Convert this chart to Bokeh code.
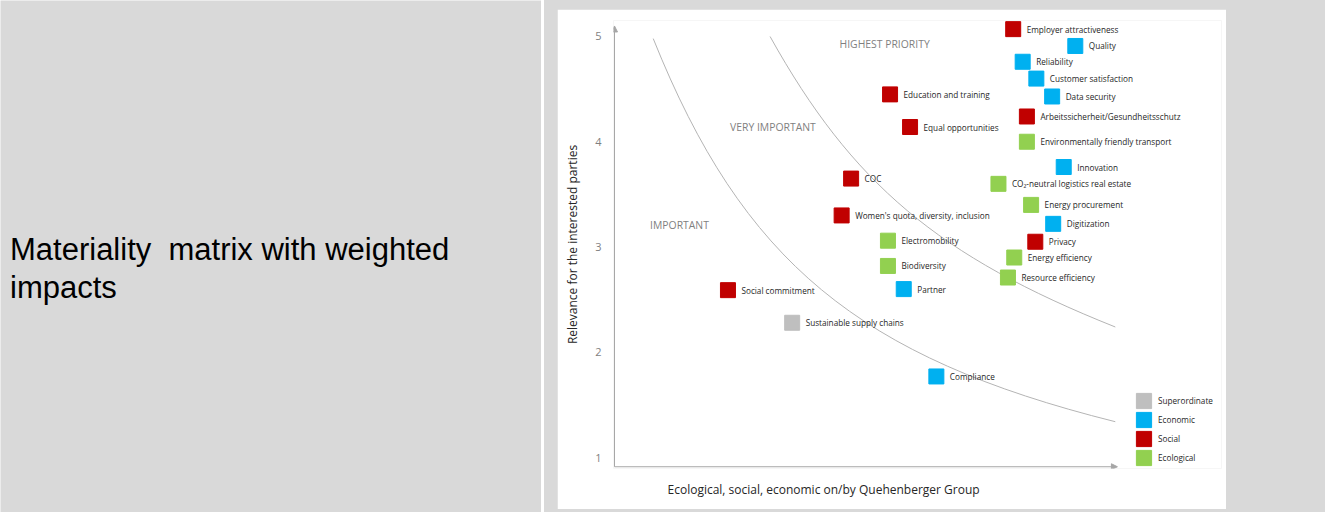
from bokeh.plotting import figure
from bokeh.models import (Label, Arrow, NormalHead, Legend, LegendItem, Title,
                          ColumnDataSource, FixedTicker, Range1d)
from bokeh.layouts import row, column
from bokeh.core.properties import value
from bokeh.embed import file_html
from bokeh.resources import INLINE

# ---------------- data ----------------
topics = ["Employer attractiveness", "Quality", "Reliability", "Customer satisfaction",
          "Data security", "Education and training", "Arbeitssicherheit/Gesundheitsschutz",
          "Equal opportunities", "Environmentally friendly transport", "Innovation", "COC",
          "CO\u2082-neutral logistics real estate", "Energy procurement",
          "Women's quota, diversity, inclusion", "Digitization", "Electromobility", "Privacy",
          "Energy efficiency", "Resource efficiency", "Biodiversity", "Partner",
          "Social commitment", "Sustainable supply chains", "Compliance"]
impact = [4.70, 5.29, 4.79, 4.92, 5.07, 3.53, 4.83, 3.72, 4.83, 5.18, 3.16, 4.56, 4.87,
          3.07, 5.08, 3.51, 4.91, 4.71, 4.65, 3.51, 3.66, 1.99, 2.60, 3.97]
relevance = [5.07, 4.91, 4.76, 4.60, 4.43, 4.45, 4.24, 4.14, 4.00, 3.76, 3.65, 3.60, 3.40,
             3.30, 3.22, 3.06, 3.05, 2.90, 2.71, 2.82, 2.60, 2.59, 2.28, 1.77]
category = ["Social", "Economic", "Economic", "Economic", "Economic", "Social", "Social",
            "Social", "Ecological", "Economic", "Social", "Ecological", "Ecological", "Social",
            "Economic", "Ecological", "Social", "Ecological", "Ecological", "Ecological",
            "Economic", "Social", "Superordinate", "Economic"]

legend_order = ["Superordinate", "Economic", "Social", "Ecological"]
legend_colors = ["#BFBFBF", "#00B0F0", "#C00000", "#92D050"]

zone_names = ["HIGHEST PRIORITY", "VERY IMPORTANT", "IMPORTANT"]
zone_x = [3.05, 2.01, 1.25]
zone_y = [4.93, 4.14, 3.21]

# priority boundary curves (cubic Bezier: start, control 1, control 2, end)
bound_x0 = [1.28, 2.39]
bound_y0 = [4.98, 5.00]
bound_cx0 = [2.13, 3.17]
bound_cy0 = [2.86, 3.60]
bound_cx1 = [3.23, 3.99]
bound_cy1 = [1.95, 2.91]
bound_x1 = [5.67, 5.67]
bound_y1 = [1.34, 2.24]

y_ticks = [1, 2, 3, 4, 5]

x_title = "Ecological, social, economic on/by Quehenberger Group"
y_title = "Relevance for the interested parties"
title_lines = ["Materiality\u00a0 matrix with weighted", "impacts"]

# ---------------- styles ----------------
GRAY_BG = "#d9d9d9"
AXIS_GRAY = "#a6a6a6"
FONT = "Open Sans"

# ---------------- left panel ----------------
left = figure(width=541, height=512, x_range=Range1d(0, 541), y_range=Range1d(0, 512),
              toolbar_location=None, output_backend="svg", x_axis_type=None,
              y_axis_type=None, min_border=0, background_fill_color=GRAY_BG,
              border_fill_color=GRAY_BG, outline_line_color=None)
left.grid.visible = False
for i, t in enumerate(title_lines):
    left.add_layout(Label(x=9.5, y=263.5 - 38 * i, x_units="screen", y_units="screen",
                          text=t, text_font="Liberation Sans", text_font_size="31px",
                          text_color="#000000", text_baseline="alphabetic"))

# ---------------- chart ----------------
x_axis_at = 0.912
y_axis_at = 0.912
x_arrow_end = 5.69
y_arrow_end = 5.10

p = figure(width=669, height=500, toolbar_location=None, output_backend="svg",
           x_range=Range1d(0.9025, 6.679), y_range=Range1d(0.8955, 5.152),
           x_axis_type=None,
           min_border_left=56, min_border_right=5, min_border_top=11, min_border_bottom=41,
           background_fill_color="white", border_fill_color="white",
           outline_line_color=None, margin=(9, 0, 0, 13))
p.grid.visible = False

p.yaxis.ticker = FixedTicker(ticks=y_ticks)
p.yaxis.axis_line_color = None
p.yaxis.major_tick_out = 0
p.yaxis.major_tick_in = 0
p.yaxis.minor_tick_out = 0
p.yaxis.minor_tick_in = 0
p.yaxis.major_label_standoff = 12
p.yaxis.major_label_text_font = FONT
p.yaxis.major_label_text_font_size = "11px"
p.yaxis.major_label_text_color = "#7f7f7f"
p.yaxis.axis_label = y_title
p.yaxis.axis_label_standoff = 11
p.yaxis.axis_label_text_font = FONT
p.yaxis.axis_label_text_font_size = "12px"
p.yaxis.axis_label_text_font_style = "normal"
p.yaxis.axis_label_text_color = "#262626"

# x-axis title under the axis, starting where it does in the original slide
p.add_layout(Title(text=x_title, align="left", offset=54, standoff=21,
                   text_font=FONT, text_font_size="12px", text_font_style="normal",
                   text_color="#262626"), "below")

# axes with arrow heads
p.add_layout(Arrow(x_start=x_axis_at, y_start=y_axis_at, x_end=x_arrow_end, y_end=y_axis_at,
                   line_color=AXIS_GRAY, line_width=1,
                   end=NormalHead(size=6, fill_color=AXIS_GRAY, line_color=AXIS_GRAY)))
p.add_layout(Arrow(x_start=x_axis_at, y_start=y_axis_at, x_end=x_axis_at, y_end=y_arrow_end,
                   line_color=AXIS_GRAY, line_width=1,
                   end=NormalHead(size=6, fill_color=AXIS_GRAY, line_color=AXIS_GRAY)))

# priority boundary curves
p.bezier(x0=bound_x0, y0=bound_y0, x1=bound_x1, y1=bound_y1,
         cx0=bound_cx0, cy0=bound_cy0, cx1=bound_cx1, cy1=bound_cy1,
         line_color="#b4b4b4", line_width=1)

# zone labels
p.text(x=zone_x, y=zone_y, text=zone_names, text_font=value(FONT),
       text_font_size=value("10.4px"), text_color="#7f7f7f", text_baseline="middle",
       text_align="left")

# points by category
color_map = dict(zip(legend_order, legend_colors))
items = []
for cat in legend_order:
    idx = [i for i, c in enumerate(category) if c == cat]
    src = ColumnDataSource(dict(x=[impact[i] for i in idx], y=[relevance[i] for i in idx],
                                label=[topics[i] for i in idx]))
    r = p.rect(x="x", y="y", width=15, height=15, width_units="screen",
               height_units="screen", source=src, fill_color=color_map[cat],
               line_color=color_map[cat])
    items.append(LegendItem(label=cat, renderers=[r]))

all_src = ColumnDataSource(dict(x=impact, y=relevance, label=topics))
p.text(x="x", y="y", text="label", source=all_src, x_offset=13.5, text_baseline="middle",
       text_align="left", text_font=value(FONT), text_font_size=value("8.2px"),
       text_color="#262626")

legend = Legend(items=items, location=(521, 1), glyph_width=19, glyph_height=19,
                label_height=19, spacing=0, padding=0, margin=0, label_standoff=5,
                border_line_color=None, background_fill_alpha=0,
                label_text_font=FONT, label_text_font_size="8.2px",
                label_text_color="#262626")
p.add_layout(legend)

right = column(p, width=781, height=512, styles={"background-color": GRAY_BG})

layout = row(left, right, spacing=3)

open("out.html", "w").write(file_html(layout, INLINE))
